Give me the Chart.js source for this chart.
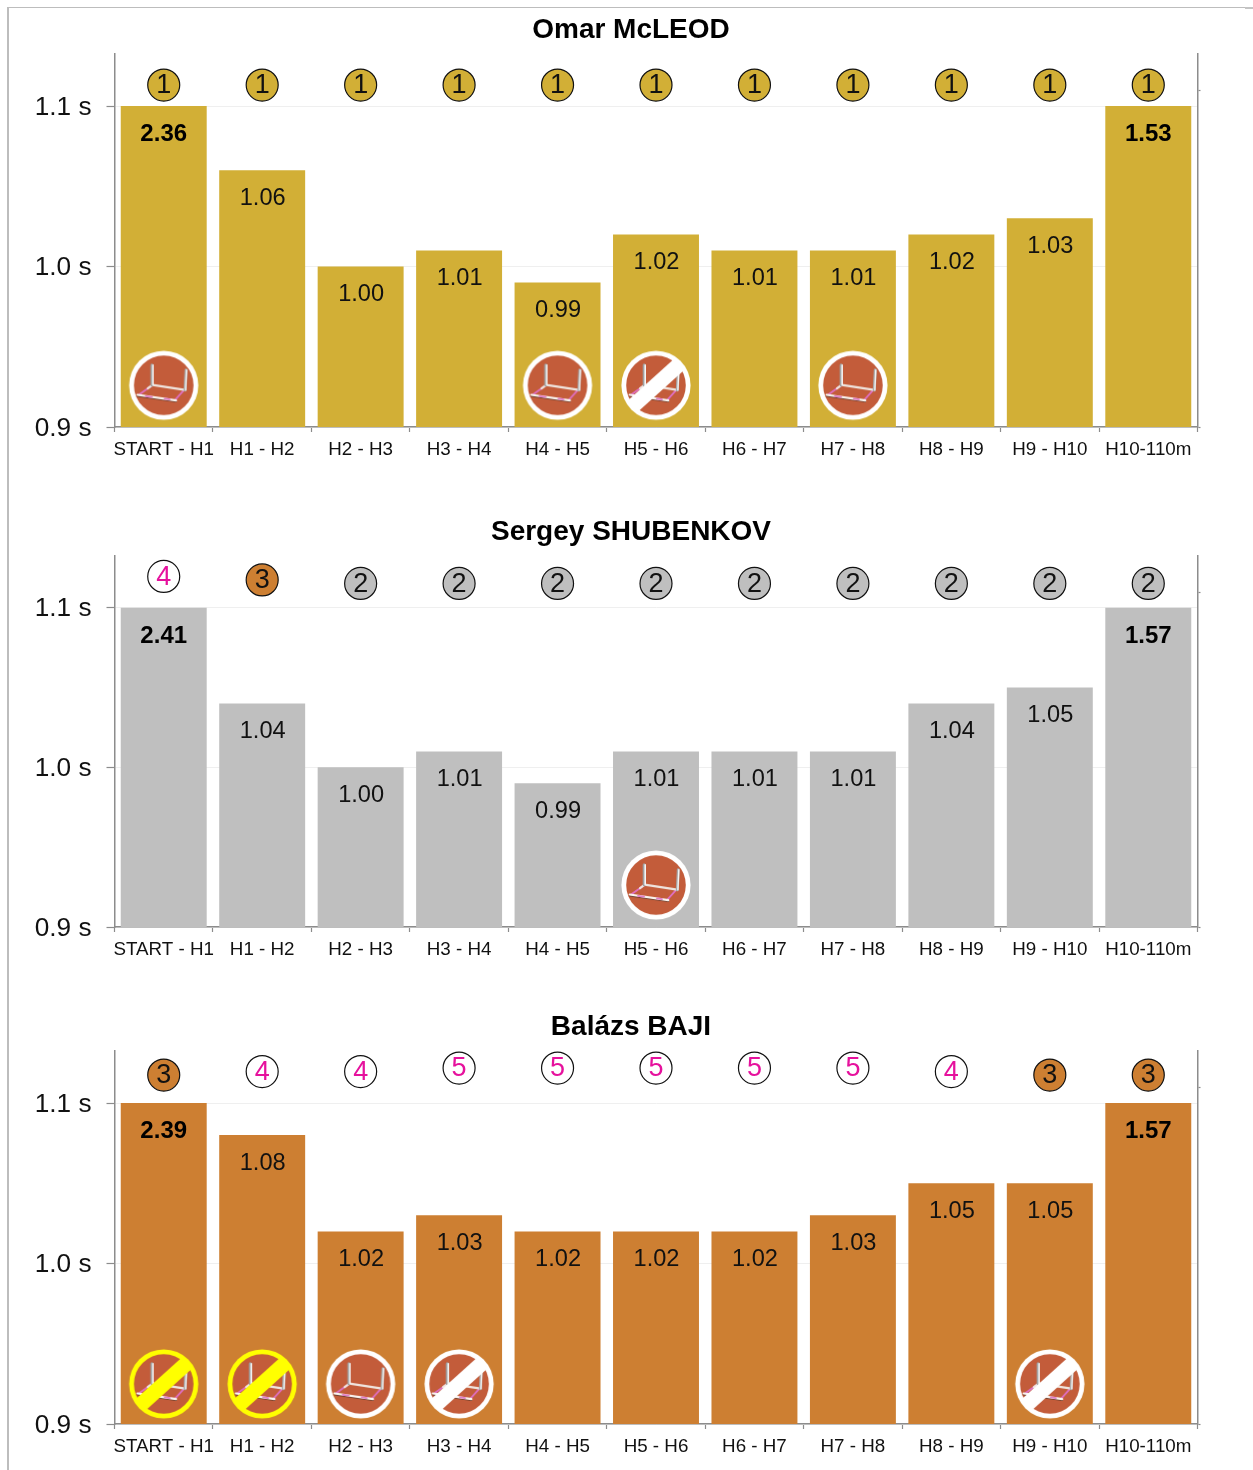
<!DOCTYPE html>
<html><head><meta charset="utf-8">
<style>
html,body{margin:0;padding:0;background:#fff;width:1253px;height:1470px;overflow:hidden}
#frame{position:absolute;left:7px;top:7px;width:1246px;height:1463px;border-top:1px solid #bdbdbd;border-left:2px solid #bdbdbd;box-sizing:border-box}
#corner{position:absolute;left:1245px;top:7px;width:8px;height:2px;background:#c4c4c4}
canvas{position:absolute}
</style>
<script src="https://cdn.jsdelivr.net/npm/chart.js@4"></script>
</head><body>
<div id="frame"></div><div id="corner"></div>
<script>
const categories=['START - H1','H1 - H2','H2 - H3','H3 - H4','H4 - H5','H5 - H6','H6 - H7','H7 - H8','H8 - H9','H9 - H10','H10-110m'];
const yTicks=[0.9,1.0,1.1];
const axisBreak=1.1;

const nameA='Omar McLEOD';
const timesA=[2.36,1.06,1.00,1.01,0.99,1.02,1.01,1.01,1.02,1.03,1.53];
const ranksA=[1,1,1,1,1,1,1,1,1,1,1];
const hurdlesA=[1,0,0,0,1,2,0,1,0,0,0];

const nameB='Sergey SHUBENKOV';
const timesB=[2.41,1.04,1.00,1.01,0.99,1.01,1.01,1.01,1.04,1.05,1.57];
const ranksB=[4,3,2,2,2,2,2,2,2,2,2];
const hurdlesB=[0,0,0,0,0,1,0,0,0,0,0];

const nameC='Balázs BAJI';
const timesC=[2.39,1.08,1.02,1.03,1.02,1.02,1.02,1.03,1.05,1.05,1.57];
const ranksC=[3,4,4,5,5,5,5,5,4,3,3];
const hurdlesC=[3,3,1,2,0,0,0,0,0,2,0];

const GOLD='#D2AF36',SILVER='#BFBFBF',BRONZE='#CD7F32',MAGENTA='#E6119D',AXIS='#8c8c8c',GRID='#efefef';
const FONT='"Liberation Sans",Arial,sans-serif';
const rankFill=r=>r===1?GOLD:r===2?SILVER:r===3?BRONZE:'#fff';

function makeIcon(kind){
  const s=72,c=document.createElement('canvas');c.width=c.height=s;
  const g=c.getContext('2d');g.translate(s/2,s/2);
  const ring=kind===3?'#FFFF00':'#fff';
  g.fillStyle=ring;g.beginPath();g.arc(0,0,34.6,0,Math.PI*2);g.fill();
  g.fillStyle='#C35C3A';g.beginPath();g.arc(0,0,29.8,0,Math.PI*2);g.fill();
  const seg=(col,w,a,b,d,e)=>{g.strokeStyle=col;g.lineWidth=w;g.beginPath();g.moveTo(a,b);g.lineTo(d,e);g.stroke();};
  g.lineCap='round';
  seg('#DE6FC0',1.8,-11.3,-0.3,-25.3,9.7);
  seg('#F0E6E0',2.2,-11.3,-0.3,-16,3.2);
  seg('#DE6FC0',1.8,19.7,5.3,11.3,14.7);
  seg('#F0E6E0',2.2,-11.3,-0.3,21.3,4.7);
  seg('#a0a0a0',3,-11.8,-20.3,-11.8,-0.3);
  seg('#F5F5F5',1.6,-10.8,-20.3,-10.8,-0.3);
  seg('#a8a8a8',3,22.3,-15.3,21.3,4.7);
  seg('#F5F5F5',1.4,22.8,-15.3,21.9,4.7);
  seg('#6a3d2c',1.6,-26.3,10.7,12.3,16.3);
  seg('#FBF6F2',2.2,-26.3,9.5,12.3,15.1);
  seg('#E07BC8',1.8,-18,10.8,-12,11.7);
  seg('#E07BC8',1.8,1,13.4,6,14.2);
  if(kind>=2){
    g.save();g.beginPath();g.arc(0,0,33,0,Math.PI*2);g.clip();
    g.rotate(-42*Math.PI/180);g.fillStyle=ring;g.fillRect(-36,-7.5,72,15);g.restore();
  }
  return c;
}
const iconByKind={1:makeIcon(1),2:makeIcon(2),3:makeIcon(3)};

const annotate={
  id:'annotate',
  afterDatasetsDraw(chart,args,opts){
    const g=chart.ctx;g.save();g.textAlign='center';g.textBaseline='middle';
    const bars=chart.getDatasetMeta(0).data, marks=chart.getDatasetMeta(2).data;
    bars.forEach((b,i)=>{
      const bold=opts.times[i]>axisBreak+0.1;
      g.font=(bold?'bold ':'')+(bold?'24px ':'23.6px ')+FONT;g.fillStyle=bold?'#000':'#111';
      g.fillText(opts.times[i].toFixed(2),b.x+(bold?0:0.5),b.y+(bold?28.5:28));
    });
    marks.forEach((p,i)=>{
      const r=opts.ranks[i];
      g.font='27px '+FONT;g.fillStyle=r>3?MAGENTA:'#111';
      g.fillText(String(r),p.x,p.y+1);
    });
    g.restore();
  }
};

function build(cfg){
  const canvas=document.createElement('canvas');
  const top=cfg.plotTop-46, bottomPad=42, h=cfg.plotBottom+bottomPad-top;
  canvas.style.left='9px';canvas.style.top=top+'px';
  canvas.style.width='1244px';canvas.style.height=h+'px';
  canvas.width=1244;canvas.height=h;
  document.body.appendChild(canvas);
  new Chart(canvas,{
    type:'bar',
    data:{labels:categories,datasets:[
      {type:'bar',yAxisID:'y',order:3,data:cfg.times.map(v=>Math.min(v,axisBreak)),backgroundColor:cfg.color,
       barPercentage:0.873,categoryPercentage:1},
      {type:'line',yAxisID:'y',order:2,showLine:false,data:cfg.hurdles.map(k=>k?cfg.iconY:null),
       pointRadius:34,pointHoverRadius:34,pointStyle:cfg.hurdles.map(k=>iconByKind[k]||false)},
      {type:'line',yAxisID:'yRank',order:1,showLine:false,data:cfg.ranks,pointRadius:16,pointBorderWidth:1.2,
       pointBorderColor:'#111',pointBackgroundColor:cfg.ranks.map(rankFill)}
    ]},
    plugins:[annotate],
    options:{
      responsive:false,animation:false,devicePixelRatio:1,
      layout:{padding:0},
      plugins:{
        legend:{display:false},tooltip:{enabled:false},
        title:{display:true,text:cfg.name,color:'#000',font:{family:FONT,size:28,weight:'bold',lineHeight:'28px'},padding:{top:8,bottom:10}},
        annotate:{times:cfg.times,ranks:cfg.ranks}
      },
      scales:{
        x:{type:'category',offset:true,
           afterFit(a){a.height=bottomPad;},
           border:{color:AXIS,width:1.5},
           grid:{offset:true,drawOnChartArea:false,tickColor:AXIS,tickLength:5,tickWidth:1.2},
           ticks:{color:'#111',font:{family:FONT,size:18.8},padding:7,maxRotation:0,autoSkip:false}},
        y:{type:'linear',position:'left',min:0.9,max:1.1324,
           afterFit(a){a.width=105.5;},
           afterBuildTicks(a){a.ticks=yTicks.map(v=>({value:v}));},
           border:{color:AXIS,width:1.5},
           grid:{color:GRID,lineWidth:1,tickColor:AXIS,tickLength:8,tickWidth:1.2},
           ticks:{color:'#111',font:{family:FONT,size:26.2},padding:15,labelOffset:1.5,callback:v=>v.toFixed(1)+' s'}},
        yRank:{type:'linear',position:'right',min:-96.7,max:9.87,
           afterFit(a){a.width=55.5;},
           afterBuildTicks(a){a.ticks=[{value:-96.7},{value:-0.7}];},
           border:{color:AXIS,width:1.5},
           grid:{drawOnChartArea:false,tickColor:AXIS,tickLength:3,tickWidth:1.2},
           ticks:{display:false}}
      }
    }
  });
}
build({name:nameA,times:timesA,ranks:ranksA,hurdles:hurdlesA,color:GOLD,plotTop:54,plotBottom:427,iconY:0.926});
build({name:nameB,times:timesB,ranks:ranksB,hurdles:hurdlesB,color:SILVER,plotTop:556,plotBottom:927,iconY:0.9263});
build({name:nameC,times:timesC,ranks:ranksC,hurdles:hurdlesC,color:BRONZE,plotTop:1051,plotBottom:1424,iconY:0.925});
</script>
</body></html>
